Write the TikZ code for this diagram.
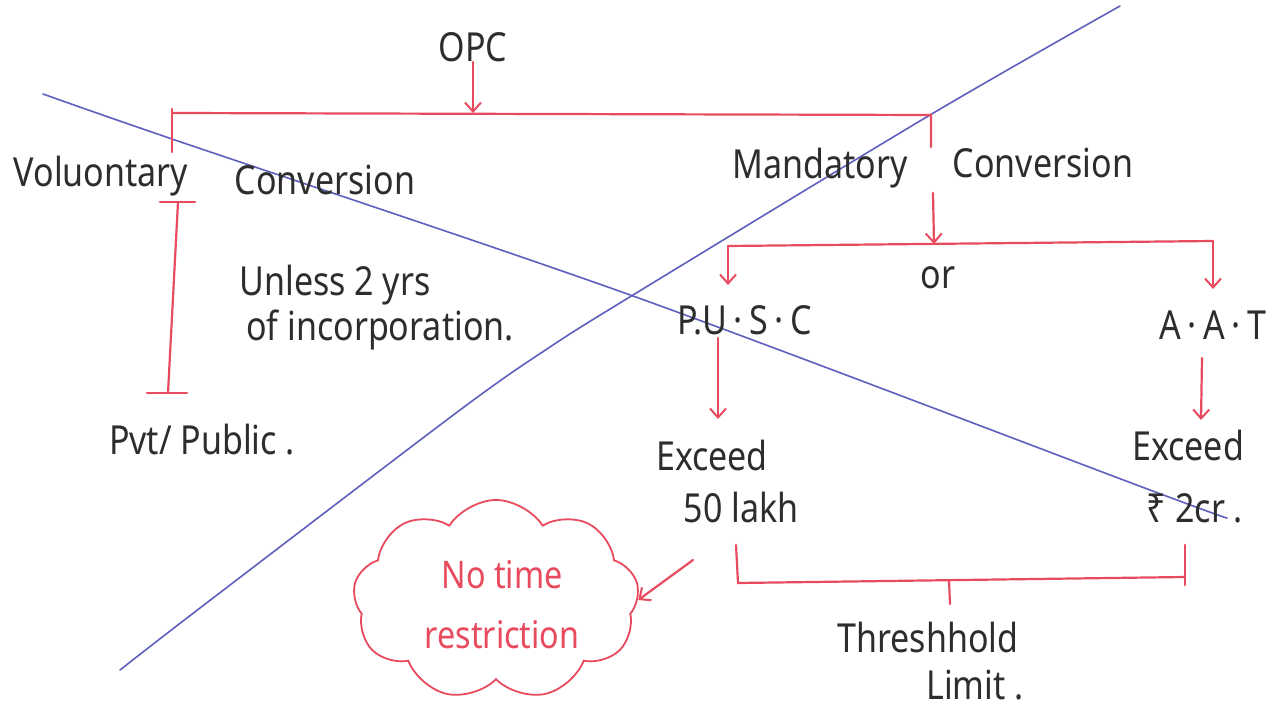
\documentclass[tikz,border=0pt]{standalone}
\usepackage{fontspec}
\setmainfont{Noto Sans}[FakeStretch=0.85]
\usetikzlibrary{arrows.meta,shapes.symbols}
\definecolor{pen}{RGB}{45,45,45}
\definecolor{redpen}{RGB}{232,74,94}
\definecolor{bluepen}{RGB}{95,95,190}
\begin{document}
\begin{tikzpicture}[x=1pt,y=-1pt,
  hand/.style={text=pen,font=\fontsize{40}{46}\selectfont,inner sep=0pt,anchor=center},
  redtxt/.style={text=redpen,font=\fontsize{38}{60}\selectfont,align=center},
  link/.style={draw=redpen,line width=2.2pt,line cap=round},
  arr/.style={link,-{Straight Barb[length=9pt,width=16pt,line width=2pt]}},
  cross/.style={draw=bluepen,line width=1.6pt,line cap=round},
  bubble/.style={cloud,draw=redpen,line width=1.8pt,cloud puffs=9,cloud puff arc=115,
    aspect=1.4,minimum width=286pt,minimum height=200pt,inner sep=0pt}]
\fill[white] (0,0) rectangle (1287,719);
\useasboundingbox (0,0) rectangle (1287,719);

% the two strike-through lines
\draw[cross] plot[smooth,tension=0.5] coordinates {(43,94) (172,139) (633,296) (1150,490) (1227,518)};
\draw[cross] plot[smooth,tension=0.5] coordinates {(120,670) (200,608) (460,410) (550,347) (633,295) (930,115) (1120,6)};

% labels
\node[hand] (opc) at (473,47) {OPC};
\node[hand] (volA) at (101,176) {Voluontary};
\node[hand] (volB) at (325,180) {Conversion};
\node[hand] (manA) at (820,168) {Mandatory};
\node[hand] (manB) at (1043,163) {Conversion};
\node[hand] (unl) at (335,285) {Unless 2 yrs};
\node[hand] (inc) at (380,330) {of incorporation.};
\node[hand] (pvt) at (202,440) {Pvt/ Public .};
\node[hand] (or) at (938,278) {or};
\node[hand] (pusc) at (745,320) {P.U\,·\,S\,·\,C};
\node[hand] (aat) at (1213,325) {A\,·\,A\,·\,T};
\node[hand] (exA) at (712,455) {Exceed};
\node[hand] (lakh) at (741,507) {50 lakh};
\node[hand] (exB) at (1188,445) {Exceed};
\node[hand] (cr) at (1195,508) {₹ 2cr .};
\node[hand] (thr) at (928,637) {Threshhold};
\node[hand] (lim) at (975,685) {Limit .};
\node[bubble] (note) at (496,600) {};
\node[redtxt] (notetxt) at (502,605) {No time\\restriction};

% top split
\coordinate (topL) at (172,113);
\coordinate (topM) at (opc.south |- topL);
\coordinate (topR) at (931,115);
\draw[arr] (opc.south) -- (topM);
\draw[link] (172,109) -- (172,152);
\draw[link] (topL) -- (topR) -- (931,147);

% voluntary branch
\coordinate (volT) at (178,202);
\coordinate (volE) at (168,393);
\draw[link] (160,202) -- (195,202);
\draw[link] (volT) -- (volE);
\draw[link] (147,393) -- (187,393);

% mandatory branch
\coordinate (splitL) at (728,246);
\coordinate (splitR) at (1213,241);
\coordinate (splitM) at (934,244);
\draw[arr] (933,193) -- (splitM);
\draw[link] (splitL) -- (splitR);
\draw[arr] (splitL) -- (728,285);
\draw[arr] (splitR) -- (1213,289);
\draw[arr] (718,338) -- (718,419);
\draw[arr] (1202,358) -- (1201,420);

% threshold bracket
\coordinate (brL) at (738,583);
\coordinate (brR) at (1185,577);
\draw[link] (736,545) -- (brL) -- (brR);
\draw[link] (1185,545) -- (1185,585);
\draw[link] (949,580) -- (950,604);

% pointer to the note
\draw[arr] (693,560) -- (note.east);
\end{tikzpicture}
\end{document}
